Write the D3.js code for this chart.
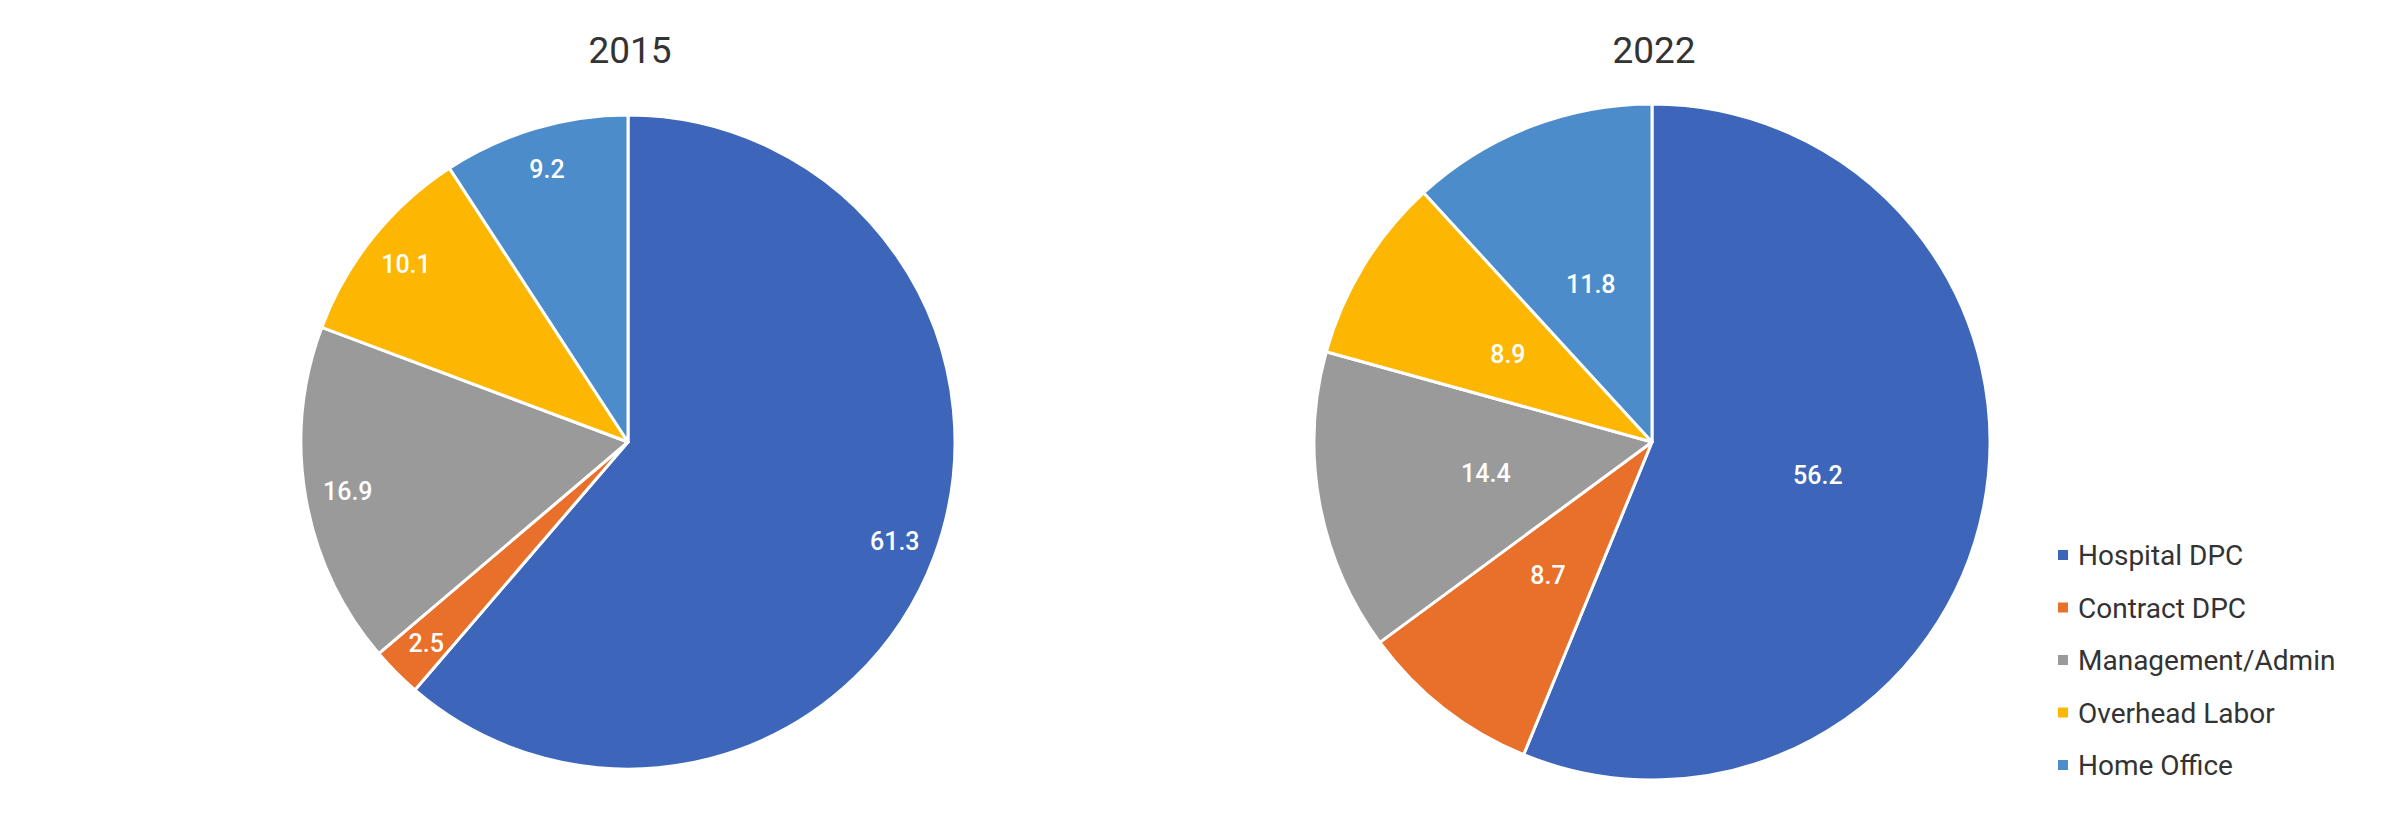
<!DOCTYPE html>
<html>
<head>
<meta charset="utf-8">
<script src="https://cdn.jsdelivr.net/npm/d3@7"></script>
<style>
  html, body { margin: 0; padding: 0; background: #fff; }
  svg { display: block; font-family: Roboto, "Noto Sans", sans-serif; }
</style>
</head>
<body>
<div id="chart"></div>
<script>
//          Chart data
var categories = ["Hospital DPC", "Contract DPC", "Management/Admin", "Overhead Labor", "Home Office"];
var colors = ["#3d66bb", "#e8702a", "#9a9a9a", "#fdb702", "#4d8ccb"];
var years = ["2015", "2022"];
var values2015 = [61.3, 2.5, 16.9, 10.1, 9.2];
var values2022 = [56.2, 8.7, 14.4, 8.9, 11.8];

//          Chart settings
var width = 2400, height = 817;
var pies = [
    {title: years[0], values: values2015, cx: 628, cy: 442, r: 327, labelAt: 0.87},
    {title: years[1], values: values2022, cx: 1652, cy: 442, r: 338, labelAt: 0.5}
];

var svg = d3.select("#chart").append("svg")
    .attr("width", width)
    .attr("height", height);

var color = d3.scaleOrdinal().domain(categories).range(colors);

var pie = d3.pie().sort(null).value(function(d) { return d.value; });

pies.forEach(function(p) {
    var data = categories.map(function(c, i) { return {name: c, value: p.values[i]}; });
    var arcs = pie(data);
    var arc = d3.arc().innerRadius(0).outerRadius(p.r);
    var labelArc = d3.arc().innerRadius(p.r * p.labelAt).outerRadius(p.r * p.labelAt);

    var g = svg.append("g").attr("transform", "translate(" + p.cx + "," + p.cy + ")");

    g.selectAll("path").data(arcs).enter().append("path")
        .attr("d", arc)
        .attr("fill", function(d) { return color(d.data.name); })
        .attr("stroke", "#fff")
        .attr("stroke-width", 3)
        .attr("stroke-linejoin", "round");

    //      Slice values
    g.selectAll("text.val").data(arcs).enter().append("text")
        .attr("class", "val")
        .attr("transform", function(d) { return "translate(" + labelArc.centroid(d) + ")"; })
        .attr("text-anchor", "middle")
        .attr("dy", "0.36em")
        .style("font-size", "25px")
        .style("font-weight", 500)
        .style("fill", "#fff")
        .text(function(d) { return d.data.value.toFixed(1); });

    //      Title
    svg.append("text")
        .attr("x", p.cx + 2)
        .attr("y", 63)
        .attr("text-anchor", "middle")
        .style("font-size", "37px")
        .style("fill", "#333")
        .text(p.title);
});

//          Legend
var legendX = 2058, legendY = 555, legendStep = 52.5;
var legend = svg.selectAll("g.legend").data(categories).enter().append("g")
    .attr("class", "legend")
    .attr("transform", function(d, i) { return "translate(" + legendX + "," + (legendY + i * legendStep) + ")"; });

legend.append("rect")
    .attr("x", 0).attr("y", -5)
    .attr("width", 10).attr("height", 10)
    .attr("fill", function(d) { return color(d); });

legend.append("text")
    .attr("x", 20)
    .attr("dy", "0.36em")
    .style("font-size", "28px")
    .style("fill", "#333")
    .text(function(d) { return d; });
</script>
</body>
</html>
